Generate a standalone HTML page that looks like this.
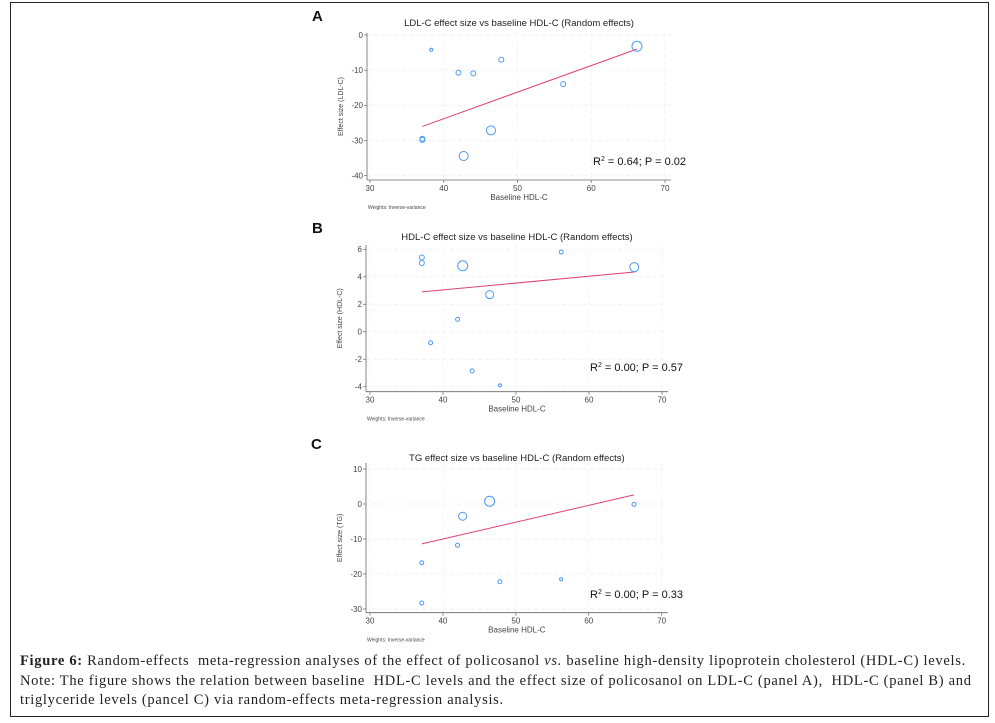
<!DOCTYPE html>
<html><head><meta charset="utf-8"><style>
body{margin:0;background:#fff;width:995px;height:723px;overflow:hidden;position:relative;font-family:"Liberation Sans",sans-serif}
#frame{position:absolute;left:10px;top:2px;width:977px;height:713px;border:1.5px solid #222}
#cap{position:absolute;left:20px;top:652px;width:975px;font-family:"Liberation Serif",serif;font-size:14.5px;line-height:19.5px;color:#222;letter-spacing:0.7px;white-space:nowrap}
svg{position:absolute;left:0;top:0}
</style></head><body>
<div id="frame"></div>
<svg id="chart" width="995" height="723"></svg>
<div id="cap"><b>Figure 6:</b> Random-effects&nbsp; meta-regression analyses of the effect of policosanol <i>vs.</i> baseline high-density lipoprotein cholesterol (HDL-C) levels.<br>Note: The figure shows the relation between baseline&nbsp; HDL-C levels and the effect size of policosanol on LDL-C (panel A),&nbsp; HDL-C (panel B) and<br>triglyceride levels (pancel C) via random-effects meta-regression analysis.</div>
<script>
const xTicks=[30,40,50,60,70];
const aX=[38.3,42,44,47.8,56.2,66.2,37.1,37.1,46.4,42.7];
const aY=[-4.2,-10.7,-10.9,-7,-14,-3.2,-29.5,-29.8,-27.1,-34.4];
const aW=[1.5,2.5,2.5,2.5,2.5,5,2.5,2.5,4.5,4.5];
const aFit=[[37.1,-26],[66.2,-4]];
const aTicks=[0,-10,-20,-30,-40];
const bX=[37.1,37.1,42.7,56.2,66.2,46.4,42,38.3,44,47.8];
const bY=[5.4,5.0,4.8,5.8,4.7,2.7,0.9,-0.8,-2.85,-3.9];
const bW=[2.5,2.5,5,2,4.5,4,2,2,2,1.5];
const bFit=[[37.1,2.9],[66.2,4.35]];
const bTicks=[6,4,2,0,-2,-4];
const cX=[46.4,42.7,66.2,42,37.1,47.8,56.2,37.1];
const cY=[0.8,-3.5,-0.1,-11.8,-16.8,-22.2,-21.5,-28.3];
const cW=[5,4,2,2,2,2,1.5,2];
const cFit=[[37.1,-11.4],[66.2,2.6]];
const cTicks=[10,0,-10,-20,-30];

const NS="http://www.w3.org/2000/svg";
const svg=document.getElementById('chart');
function mk(tag,attrs,parent,text){const e=document.createElementNS(NS,tag);for(const k in attrs)e.setAttribute(k,attrs[k]);if(text!==undefined)e.textContent=text;(parent||svg).appendChild(e);return e;}

function panel(o){
  const g=mk('g',{});
  
  
  const sx=v=>o.x0+(v-30)/40*(o.x1-o.x0);
  const sy=v=>o.yTop+(o.yMax-v)/(o.yMax-o.yMin)*(o.yBot-o.yTop);
  const L=o.axL,B=o.axB,R=o.x1+6,T=o.top;
  xTicks.forEach(t=>{const l=mk('line',{x1:sx(t),x2:sx(t),y1:T,y2:B,stroke:'#eee','stroke-dasharray':'4 3','stroke-width':0.7},g);});
  o.yTicks.forEach(t=>{const l=mk('line',{x1:L,x2:R,y1:sy(t),y2:sy(t),stroke:'#eee','stroke-dasharray':'4 3','stroke-width':0.7},g);});
  const ya=mk('line',{x1:L,x2:L,y1:T,y2:B,stroke:'#666','stroke-width':0.8},g);
  
  const xa=mk('line',{x1:L,x2:R,y1:B,y2:B,stroke:'#666','stroke-width':0.8},g);
  
  xTicks.forEach(t=>{mk('line',{x1:sx(t),x2:sx(t),y1:B,y2:B+3,stroke:'#666','stroke-width':0.7},g);
    const tx=mk('text',{x:sx(t),y:B+11,'font-size':8,'text-anchor':'middle',fill:'#444'},g,t);
    });
  o.yTicks.forEach(t=>{mk('line',{x1:L-3,x2:L,y1:sy(t),y2:sy(t),stroke:'#666','stroke-width':0.7},g);
    const tx=mk('text',{x:L-4,y:sy(t)+2.8,'font-size':8,'text-anchor':'end',fill:'#444'},g,t);
    });
  const fl=mk('line',{x1:sx(o.fit[0][0]),y1:sy(o.fit[0][1]),x2:sx(o.fit[1][0]),y2:sy(o.fit[1][1]),stroke:'#e0407a','stroke-width':1},g);
  
  o.xs.forEach((xv,i)=>{const c=mk('circle',{cx:sx(xv),cy:sy(o.ys[i]),r:o.ws[i],fill:'none',stroke:'#4a9af5','stroke-width':1},g);
    });
  const lt=mk('text',{x:o.lx,y:o.ly,'font-size':15,'font-weight':'bold',fill:'#111'},g,o.id);
  
  const tt=mk('text',{x:(L+R)/2,y:o.ty,'font-size':9.5,'text-anchor':'middle',fill:'#222'},g,o.title);
  
  const xl=mk('text',{x:(L+R)/2,y:B+20,'font-size':8,'text-anchor':'middle',fill:'#444'},g,'Baseline HDL-C');
  
  const yl=mk('text',{x:0,y:0,'font-size':7,'text-anchor':'middle',fill:'#444',transform:`translate(${L-24},${(T+B)/2}) rotate(-90)`},g,o.ylab);
  
  const wn=mk('text',{x:L+1,y:B+29,'font-size':5,fill:'#444'},g,'Weights: Inverse-variance');
  
  const rt=mk('text',{x:o.rx,y:o.ry,'font-size':11,fill:'#111'},g);
  
  rt.innerHTML='R<tspan dy="-4" font-size="7">2</tspan><tspan dy="4"> = '+o.stat+'</tspan>';
}
panel({id:'A',title:'LDL-C effect size vs baseline HDL-C (Random effects)',ylab:'Effect size (LDL-C)',xs:aX,ys:aY,ws:aW,fit:aFit,yTicks:aTicks,
  x0:370,x1:665,yMax:0,yMin:-40,yTop:35,yBot:175.7,axL:367,axB:180,top:33,lx:312,ly:21,ty:26,rx:593,ry:165,stat:'0.64; P = 0.02'});
panel({id:'B',title:'HDL-C effect size vs baseline HDL-C (Random effects)',ylab:'Effect size (HDL-C)',xs:bX,ys:bY,ws:bW,fit:bFit,yTicks:bTicks,
  x0:370,x1:662,yMax:6,yMin:-4,yTop:249.3,yBot:386.7,axL:366,axB:391.7,top:245,lx:312,ly:233,ty:240,rx:590,ry:371,stat:'0.00; P = 0.57'});
panel({id:'C',title:'TG effect size vs baseline HDL-C (Random effects)',ylab:'Effect size (TG)',xs:cX,ys:cY,ws:cW,fit:cFit,yTicks:cTicks,
  x0:370,x1:661.7,yMax:10,yMin:-30,yTop:469,yBot:609,axL:366,axB:612.7,top:463,lx:311,ly:449,ty:461,rx:590,ry:598,stat:'0.00; P = 0.33'});
</script>
</body></html>
